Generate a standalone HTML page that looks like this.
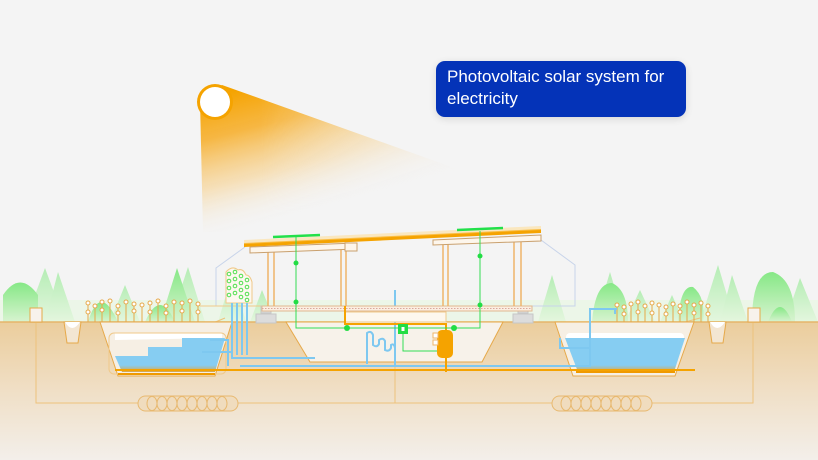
<!DOCTYPE html>
<html><head><meta charset="utf-8"><style>
html,body{margin:0;padding:0;background:#f4f4f4;}
svg{display:block}
.lbl{position:absolute;left:436px;top:61px;width:250px;height:56px;background:#0433b8;border-radius:9px;box-shadow:0 2px 8px rgba(0,0,0,.12);color:#fff;font:17px/22px "Liberation Sans",sans-serif;padding:5px 0 0 11px;box-sizing:border-box;}
</style></head><body>
<div style="position:relative;width:818px;height:460px;overflow:hidden">
<svg width="818" height="460" viewBox="0 0 818 460">
<defs>
<linearGradient id="beam" gradientUnits="userSpaceOnUse" x1="215" y1="95" x2="250" y2="228">
<stop offset="0" stop-color="#f5a300"/><stop offset="0.3" stop-color="#f6b030" stop-opacity=".9"/><stop offset="0.65" stop-color="#f7cf88" stop-opacity=".55"/><stop offset="1" stop-color="#f4f4f4" stop-opacity="0"/></linearGradient>
<linearGradient id="beamx" gradientUnits="userSpaceOnUse" x1="260" y1="0" x2="530" y2="0">
<stop offset="0" stop-color="#fff" stop-opacity="1"/><stop offset="1" stop-color="#fff" stop-opacity="0.15"/></linearGradient>
<mask id="bm"><rect x="0" y="0" width="818" height="460" fill="url(#beamx)"/></mask>
<linearGradient id="gnd" x1="0" y1="0" x2="0" y2="1">
<stop offset="0" stop-color="#ebcd9c"/><stop offset="0.5" stop-color="#f0dfc6"/><stop offset="1" stop-color="#f3efea"/></linearGradient>
<linearGradient id="tree" x1="0" y1="0" x2="0" y2="1">
<stop offset="0" stop-color="#86e886"/><stop offset="1" stop-color="#d8f3d0"/></linearGradient>
<linearGradient id="tree2" x1="0" y1="0" x2="0" y2="1">
<stop offset="0" stop-color="#b5edb5"/><stop offset="1" stop-color="#e4f6de"/></linearGradient>
<linearGradient id="wat" x1="0" y1="0" x2="0" y2="1">
<stop offset="0" stop-color="#86cdf2"/><stop offset="0.8" stop-color="#86cdf2"/><stop offset="1" stop-color="#d9a54a"/></linearGradient>
</defs>
<!-- beam -->
<polygon points="200,100 222,85 530,195 270,232 203,232" fill="url(#beam)" mask="url(#bm)"/>
<circle cx="215" cy="102" r="18" fill="#f5a300"/>
<circle cx="215" cy="102" r="15" fill="#fff"/>
<!-- trees -->
<rect x="0" y="300" width="818" height="22" fill="#e6f6e0" opacity=".6"/>
<g fill="url(#tree2)">
<path d="M25,322 L45,268 L65,322Z"/><path d="M45,322 L58,272 L75,322Z"/>
<path d="M110,322 L125,285 L140,322Z"/><path d="M170,322 L188,267 L205,322Z"/>
<path d="M218,322 L232,275 L246,322Z"/><path d="M250,322 L262,290 L275,322Z"/>
<path d="M595,322 L610,272 L625,322Z"/><path d="M700,322 L718,265 L735,322Z"/>
<path d="M720,322 L732,275 L748,322Z"/><path d="M785,322 L800,278 L818,322Z"/>
<path d="M538,322 L552,275 L566,322Z"/><path d="M660,322 L672,295 L684,322Z"/>
<path d="M625,322 L640,290 L655,322Z"/>
</g>
<g fill="url(#tree)">
<path d="M3,322 L3,295 Q20,270 38,295 L38,322Z"/><path d="M88,322 Q100,282 118,322Z"/>
<path d="M160,322 L177,268 L195,322Z"/><path d="M145,322 Q160,288 175,322Z"/>
<path d="M592,322 Q595,283 612,283 Q628,290 628,322Z"/><path d="M678,322 Q680,285 693,287 Q706,297 703,322Z"/>
<path d="M752,322 Q752,272 773,272 Q795,280 795,322Z"/><path d="M768,322 Q780,292 792,322Z"/>
</g>
<!-- ground -->
<rect x="0" y="322" width="818" height="138" fill="url(#gnd)"/>
<line x1="0" y1="322" x2="818" y2="322" stroke="#e6b56a" stroke-width="1.5"/>
<!-- wiring frame -->
<g stroke="#edc27c" stroke-width="1" fill="none">
<polyline points="36,322 36,403 753,403 753,322"/>
<line x1="395" y1="322" x2="395" y2="403"/>
<line x1="225" y1="318" x2="160" y2="345"/>
<line x1="600" y1="345" x2="700" y2="318"/>
</g>
<!-- coils -->
<g stroke="#e8b970" stroke-width="1" fill="#f0dcbe">
<rect x="138" y="396" width="100" height="15" rx="7.5"/>
<rect x="552" y="396" width="100" height="15" rx="7.5"/>
</g>
<g stroke="#e8b970" stroke-width="1" fill="none">
<ellipse cx="152" cy="403.5" rx="5" ry="7"/><ellipse cx="162" cy="403.5" rx="5" ry="7"/><ellipse cx="172" cy="403.5" rx="5" ry="7"/><ellipse cx="182" cy="403.5" rx="5" ry="7"/><ellipse cx="192" cy="403.5" rx="5" ry="7"/><ellipse cx="202" cy="403.5" rx="5" ry="7"/><ellipse cx="212" cy="403.5" rx="5" ry="7"/><ellipse cx="222" cy="403.5" rx="5" ry="7"/>
<ellipse cx="566" cy="403.5" rx="5" ry="7"/><ellipse cx="576" cy="403.5" rx="5" ry="7"/><ellipse cx="586" cy="403.5" rx="5" ry="7"/><ellipse cx="596" cy="403.5" rx="5" ry="7"/><ellipse cx="606" cy="403.5" rx="5" ry="7"/><ellipse cx="616" cy="403.5" rx="5" ry="7"/><ellipse cx="626" cy="403.5" rx="5" ry="7"/><ellipse cx="636" cy="403.5" rx="5" ry="7"/>
</g>
<!-- manholes & posts -->
<g stroke="#e6a94a" stroke-width="1" fill="#f3e6d2">
<path d="M64,322 L67,343 L78,343 L81,322Z"/><path d="M709,322 L712,343 L723,343 L726,322Z"/>
<rect x="30" y="308" width="12" height="14" fill="#f7f2ec"/><rect x="748" y="308" width="12" height="14" fill="#f7f2ec"/>
</g>
<path d="M65,322 Q72,334 80,322Z" fill="#fff"/><path d="M710,322 Q717,334 725,322Z" fill="#fff"/>
<!-- left pit -->
<path d="M100,322 L118,376 L215,376 L232,322Z" fill="#f6efe4" stroke="#e6a94a" stroke-width="1"/>
<path d="M115,333 L115,340 L222,338 L222,333Z" fill="#fff"/>
<path d="M115,356 L148,356 L148,347 L182,347 L182,338 L225,338 L215,372 L122,372Z" fill="url(#wat)"/>
<rect x="109" y="333" width="117" height="41" rx="5" fill="none" stroke="#f0c98a" stroke-width="1"/>
<line x1="118" y1="374" x2="215" y2="374" stroke="#f09a00" stroke-width="2"/>
<!-- right pit -->
<path d="M555,322 L573,376 L675,376 L694,322Z" fill="#f6efe4" stroke="#e6a94a" stroke-width="1"/>
<rect x="566" y="333" width="118" height="10" rx="4" fill="#fff"/>
<path d="M565,338 L685,338 L674,372 L578,372Z" fill="url(#wat)"/>
<line x1="576" y1="372" x2="675" y2="372" stroke="#f09a00" stroke-width="2"/>
<!-- center pit -->
<path d="M286,322 L310,362 L482,362 L503,322Z" fill="#f7f2ea" stroke="#e6a94a" stroke-width="1"/>
<!-- crops -->
<g stroke="#e6a94a" stroke-width="1" fill="#fff">
<path d="M88,322 L88,302 M95,322 L95,305 M102,322 L102,301 M110,322 L110,300 M118,322 L118,305 M126,322 L126,301 M134,322 L134,303 M142,322 L142,304 M150,322 L150,302 M158,322 L158,300 M166,322 L166,305 M174,322 L174,301 M182,322 L182,302 M190,322 L190,300 M198,322 L198,303"/>
</g>
<g fill="#fff" stroke="#e6a94a" stroke-width="1">
<circle cx="88" cy="303" r="2"/><circle cx="95" cy="306" r="2"/><circle cx="102" cy="302" r="2"/><circle cx="110" cy="301" r="2"/><circle cx="118" cy="306" r="2"/><circle cx="126" cy="302" r="2"/><circle cx="134" cy="304" r="2"/><circle cx="142" cy="305" r="2"/><circle cx="150" cy="303" r="2"/><circle cx="158" cy="301" r="2"/><circle cx="166" cy="306" r="2"/><circle cx="174" cy="302" r="2"/><circle cx="182" cy="303" r="2"/><circle cx="190" cy="301" r="2"/><circle cx="198" cy="304" r="2"/>
<circle cx="88" cy="312" r="2"/><circle cx="102" cy="310" r="2"/><circle cx="118" cy="313" r="2"/><circle cx="134" cy="311" r="2"/><circle cx="150" cy="312" r="2"/><circle cx="166" cy="313" r="2"/><circle cx="182" cy="311" r="2"/><circle cx="198" cy="312" r="2"/>
</g>
<g stroke="#e6a94a" stroke-width="1" fill="#fff">
<path d="M617,322 L617,304 M624,322 L624,306 M631,322 L631,303 M638,322 L638,301 M645,322 L645,305 M652,322 L652,302 M659,322 L659,304 M666,322 L666,306 M673,322 L673,303 M680,322 L680,305 M687,322 L687,301 M694,322 L694,304 M701,322 L701,302 M708,322 L708,305"/>
<circle cx="617" cy="305" r="2"/><circle cx="624" cy="307" r="2"/><circle cx="631" cy="304" r="2"/><circle cx="638" cy="302" r="2"/><circle cx="645" cy="306" r="2"/><circle cx="652" cy="303" r="2"/><circle cx="659" cy="305" r="2"/><circle cx="666" cy="307" r="2"/><circle cx="673" cy="304" r="2"/><circle cx="680" cy="306" r="2"/><circle cx="687" cy="302" r="2"/><circle cx="694" cy="305" r="2"/><circle cx="701" cy="303" r="2"/><circle cx="708" cy="306" r="2"/>
<circle cx="624" cy="314" r="2"/><circle cx="638" cy="312" r="2"/><circle cx="652" cy="313" r="2"/><circle cx="666" cy="314" r="2"/><circle cx="680" cy="312" r="2"/><circle cx="694" cy="313" r="2"/><circle cx="708" cy="314" r="2"/>
</g>
<!-- greenhouse outline -->
<polyline points="245,247 216,268 216,306 262,306" fill="none" stroke="#c8d4ea" stroke-width="1"/>
<polyline points="541,240 575,265 575,306 530,306" fill="none" stroke="#c8d4ea" stroke-width="1"/>
<line x1="200" y1="306" x2="262" y2="306" stroke="#f0c98a" stroke-width="1"/>
<!-- vertical garden -->
<path d="M226,303 L226,272 Q232,265 238,270 Q243,268 246,275 Q250,275 252,282 L252,303Z" fill="#fdf8f0" stroke="#f0c98a" stroke-width="1"/>
<g fill="none" stroke="#4ee04e" stroke-width="1">
<circle cx="229" cy="274" r="1.8"/><circle cx="235" cy="272" r="1.8"/><circle cx="241" cy="276" r="1.8"/><circle cx="247" cy="280" r="1.8"/>
<circle cx="229" cy="281" r="1.8"/><circle cx="235" cy="279" r="1.8"/><circle cx="241" cy="283" r="1.8"/><circle cx="247" cy="287" r="1.8"/>
<circle cx="229" cy="288" r="1.8"/><circle cx="235" cy="286" r="1.8"/><circle cx="241" cy="290" r="1.8"/><circle cx="247" cy="294" r="1.8"/>
<circle cx="229" cy="295" r="1.8"/><circle cx="235" cy="293" r="1.8"/><circle cx="241" cy="297" r="1.8"/><circle cx="247" cy="300" r="1.8"/>
</g>
<!-- blue pipes -->
<g stroke="#7ec8f0" stroke-width="2" fill="none">
<polyline points="232,303 232,358 315,358"/>
<polyline points="237,303 237,355"/><polyline points="242,303 242,355"/><polyline points="247,303 247,355"/>
<polyline points="240,366 590,366 590,309 617,309"/>
<polyline points="202,352 232,352"/>
<polyline points="228,366 228,340 210,340"/>
<polyline points="615,309 615,314 M605,309 605,314 M596,309 596,314"/>
<polyline points="395,366 395,290 Q395,285 400,285 Q403,288 402,292"/>
<path d="M367,364 L367,333 Q371,330 373,335 L373,345 Q377,348 379,344 L379,340 Q383,337 385,341 L385,350 Q389,352 391,348 L391,345 Q394,343 395,348"/>
<polyline points="560,338 560,348 590,348"/>
</g>
<!-- blocks -->
<g fill="#dcdcdc" stroke="#c6c6c6" stroke-width="1">
<rect x="256" y="314" width="20" height="9"/><rect x="261" y="306" width="10" height="7"/>
<rect x="513" y="314" width="20" height="9"/><rect x="518" y="306" width="10" height="7"/>
<rect x="361" y="306" width="10" height="6"/><rect x="418" y="306" width="10" height="6"/>
</g>
<!-- floor -->
<rect x="262" y="306" width="270" height="5" fill="#fbeee0" stroke="#e0b890" stroke-width="1"/>
<line x1="262" y1="308.5" x2="532" y2="308.5" stroke="#d9a9a0" stroke-width="1" stroke-dasharray="1.5 1.5"/>
<rect x="345" y="312" width="101" height="10" fill="#fdf7ee" stroke="#f0c98a" stroke-width="1"/>
<!-- columns -->
<g stroke="#efb56a" stroke-width="1.5">
<line x1="268" y1="252" x2="268" y2="306"/><line x1="274" y1="252" x2="274" y2="306"/>
<line x1="341" y1="248" x2="341" y2="306"/><line x1="346" y1="248" x2="346" y2="306"/>
<line x1="443" y1="244" x2="443" y2="306"/><line x1="448" y1="244" x2="448" y2="306"/>
<line x1="514" y1="241" x2="514" y2="306"/><line x1="521" y1="241" x2="521" y2="306"/>
</g>
<!-- roof -->
<polygon points="244,243 541,229 541,233 244,247" fill="#f5a300"/>
<polygon points="244,240 541,226 541,230 244,244" fill="#ffd98a" opacity=".5"/>
<g fill="#fdf6ec" stroke="#c9a06e" stroke-width="1">
<polygon points="250,247 356,243 356,249 250,253"/>
<polygon points="433,240 541,235 541,241 433,245"/>
<rect x="345" y="243" width="12" height="8"/>
</g>
<!-- orange pipes -->
<g stroke="#f5a300" stroke-width="2" fill="none">
<polyline points="345,306 345,324 446,324 446,372"/>
<line x1="115" y1="370" x2="695" y2="370"/>
</g>
<rect x="437" y="330" width="16" height="28" rx="5" fill="#f5a300"/>
<rect x="433" y="333" width="5" height="5" fill="#fff" stroke="#efb56a" stroke-width="1"/>
<rect x="433" y="340" width="5" height="5" fill="#fff" stroke="#efb56a" stroke-width="1"/>
<!-- green wiring -->
<g stroke="#33dd55" stroke-width="1" fill="none">
<polyline points="296,237 296,328 480,328 480,231"/>
<polyline points="403,334 403,351 437,351"/>
</g>
<g stroke="#22e04a" stroke-width="2.5">
<line x1="273" y1="237" x2="320" y2="235"/><line x1="457" y1="230" x2="503" y2="228"/>
</g>
<g fill="#22dd44">
<circle cx="296" cy="263" r="2.5"/><circle cx="296" cy="302" r="2.5"/><circle cx="347" cy="328" r="3"/><circle cx="454" cy="328" r="3"/><circle cx="480" cy="256" r="2.5"/><circle cx="480" cy="305" r="2.5"/>
<rect x="398" y="324" width="10" height="10"/>
</g>
<rect x="401.5" y="327" width="3" height="4" fill="#fff"/>
</svg>
<div class="lbl">Photovoltaic solar system for electricity</div>
</div>
</body></html>
